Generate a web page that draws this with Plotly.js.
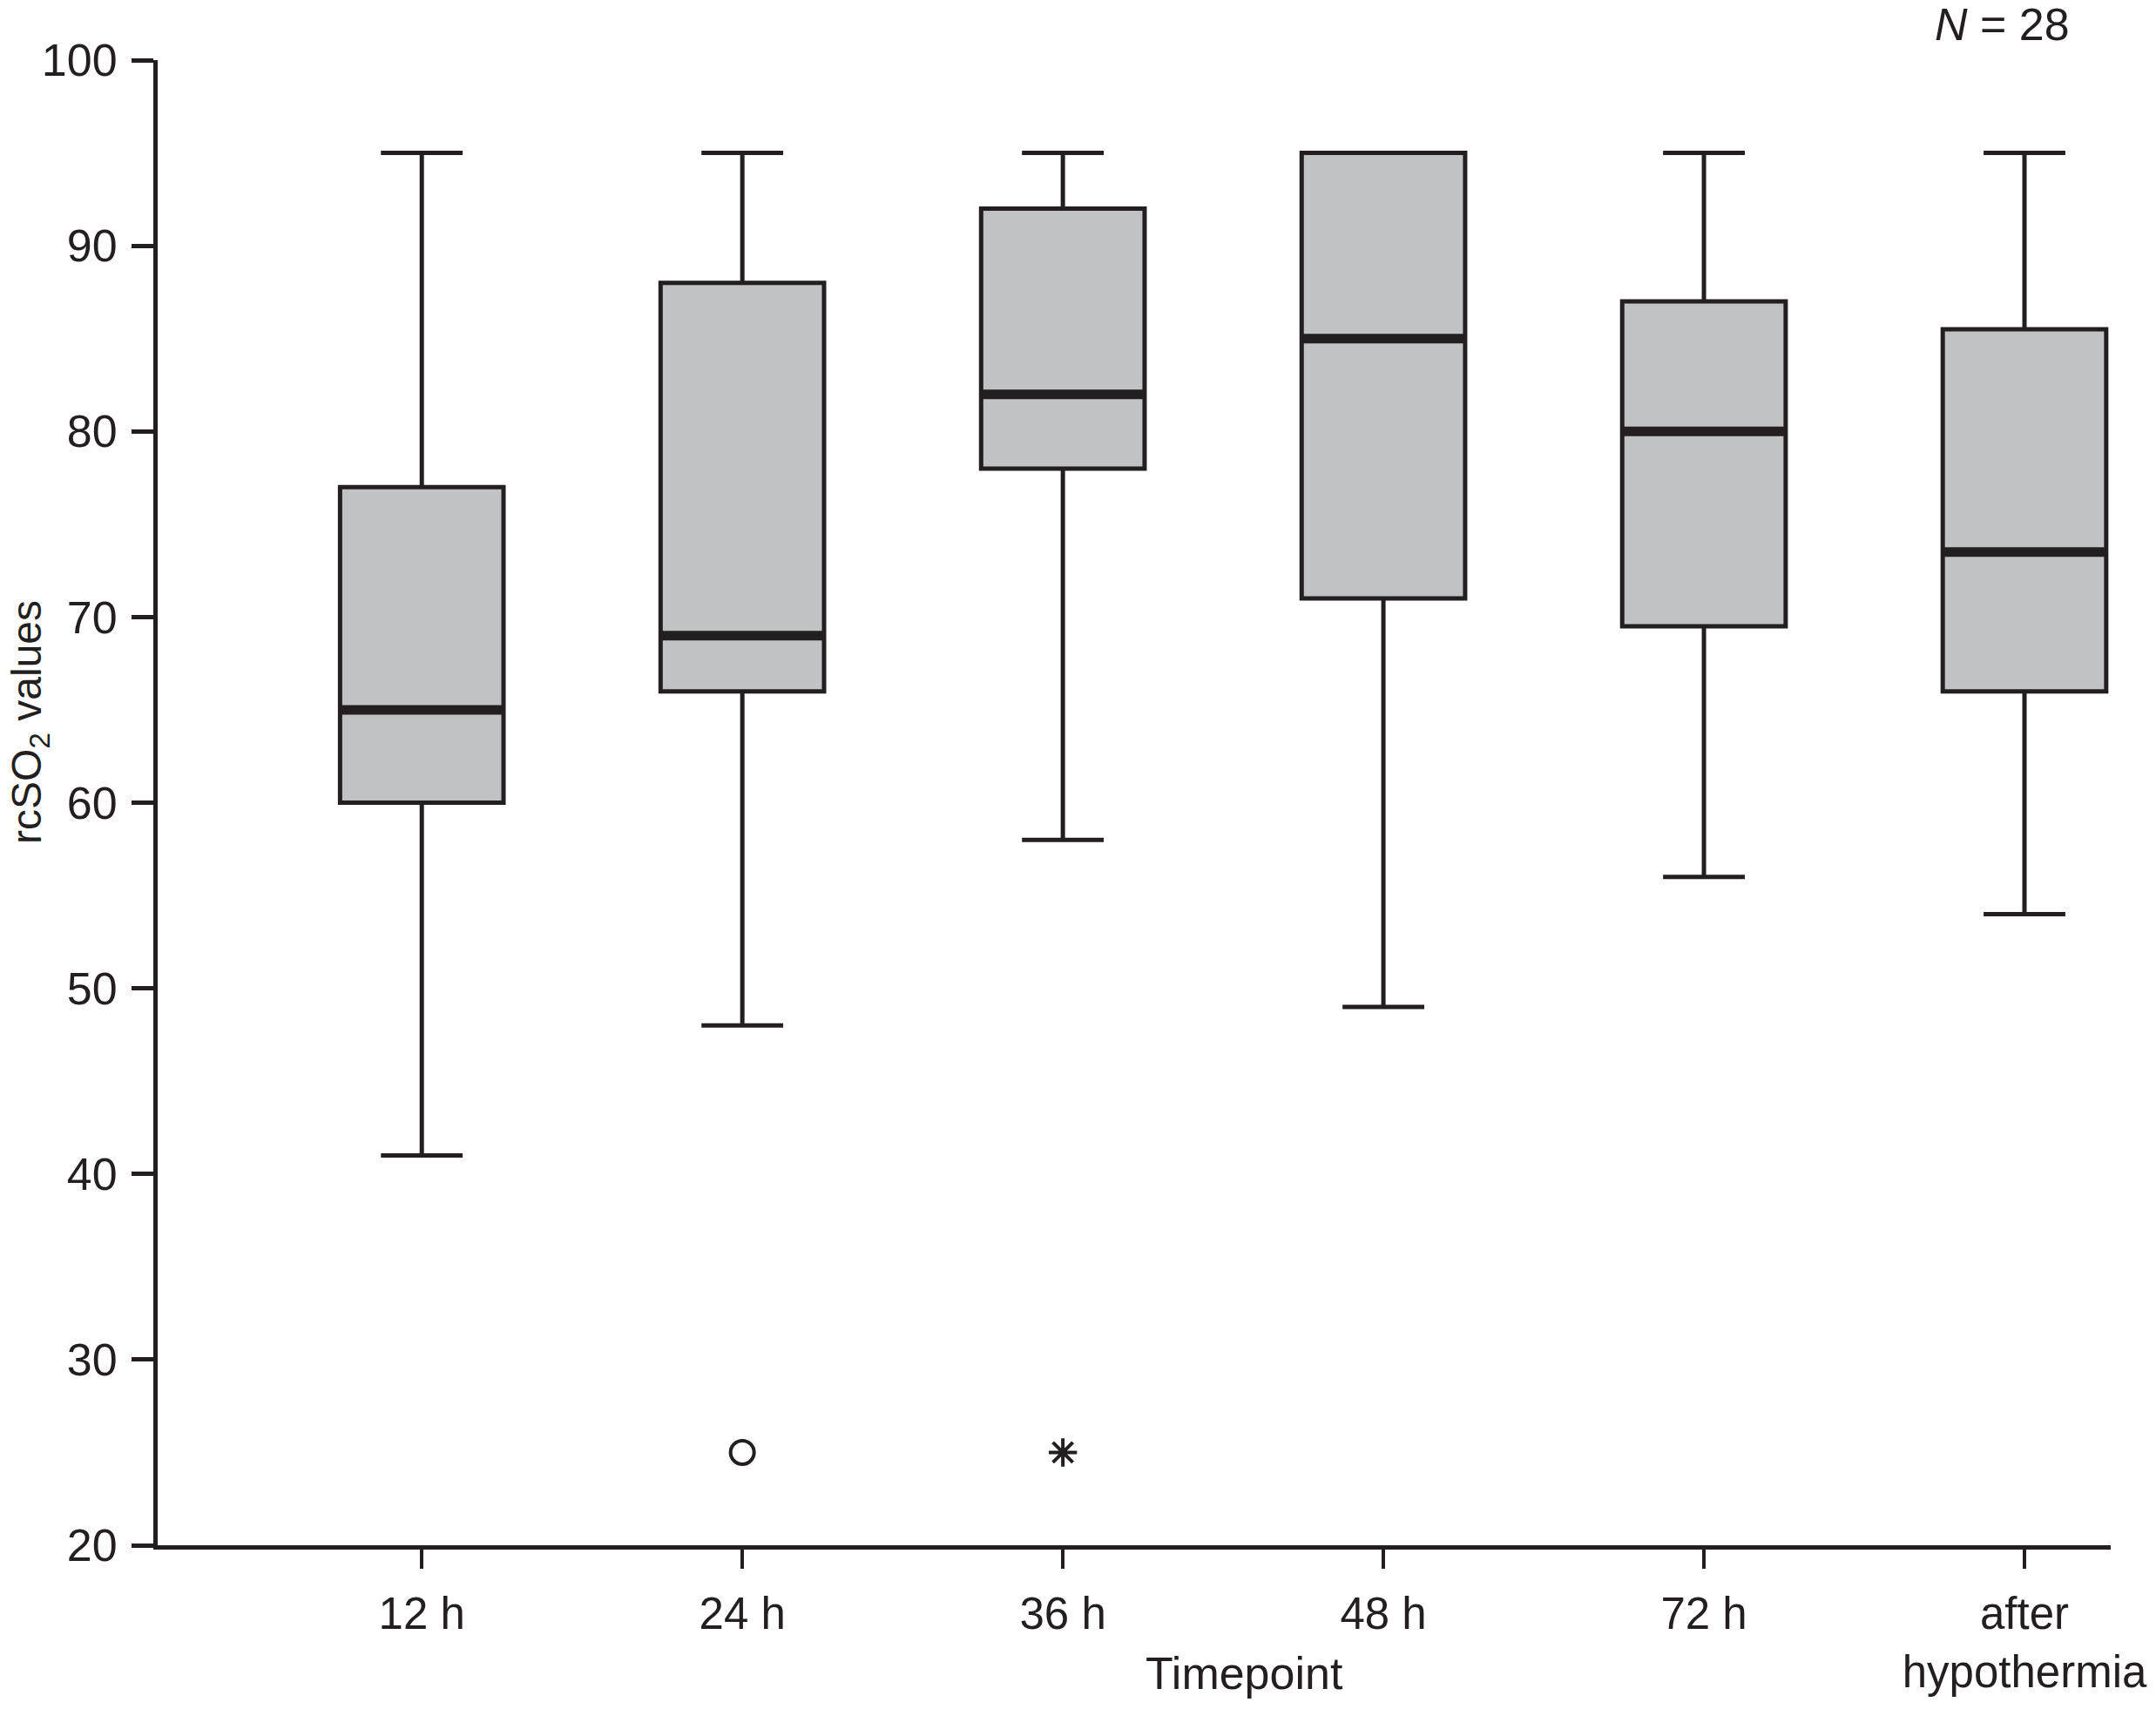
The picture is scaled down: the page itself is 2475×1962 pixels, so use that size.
<!DOCTYPE html>
<html>
<head>
<meta charset="utf-8">
<script src="https://cdn.plot.ly/plotly-3.0.1.min.js"></script>
<style>html,body{margin:0;padding:0;background:#fff;}#chart{width:2475px;height:1962px;}</style>
</head>
<body>
<div id="chart"></div>
<script>
const categories = ['12 h', '24 h', '36 h', '48 h', '72 h', 'after<br>hypothermia'];
const lowerWhisker = [41, 48, 58, 49, 56, 54];
const q1Values = [60, 66, 78, 71, 69.5, 66];
const medianValues = [65, 69, 82, 85, 80, 73.5];
const q3Values = [77, 88, 92, 95, 87, 85.5];
const upperWhisker = [95, 95, 95, 95, 95, 95];
const outlierCats = ['24 h', '36 h'];
const outlierValues = [25, 25];
const outlierSymbols = ['circle-open', 'asterisk-open'];
const yTickVals = [20, 30, 40, 50, 60, 70, 80, 90, 100];

const ink = '#231f20';
const fill = '#c1c2c4';
const fontFam = 'Liberation Sans, Arial, sans-serif';

const boxTrace = {
  type: 'box',
  x: categories,
  q1: q1Values,
  median: medianValues,
  q3: q3Values,
  lowerfence: lowerWhisker,
  upperfence: upperWhisker,
  boxpoints: false,
  width: 0.51,
  whiskerwidth: 0.5,
  fillcolor: fill,
  line: {color: ink, width: 5},
  hoverinfo: 'skip',
  showlegend: false
};

const medianTrace = {
  type: 'box',
  x: categories,
  q1: medianValues,
  median: medianValues,
  q3: medianValues,
  lowerfence: medianValues,
  upperfence: medianValues,
  boxpoints: false,
  width: 0.51,
  whiskerwidth: 0,
  fillcolor: 'rgba(0,0,0,0)',
  line: {color: ink, width: 11},
  hoverinfo: 'skip',
  showlegend: false
};

const outlierTrace = {
  type: 'scatter',
  mode: 'markers',
  x: outlierCats,
  y: outlierValues,
  marker: {symbol: outlierSymbols, size: 27, color: ink, line: {color: ink, width: 4}},
  hoverinfo: 'skip',
  showlegend: false
};

const layout = {
  width: 2475,
  height: 1962,
  margin: {l: 181, r: 52, t: 69, b: 188},
  paper_bgcolor: '#ffffff',
  plot_bgcolor: '#ffffff',
  boxmode: 'overlay',
  font: {family: fontFam, color: ink, size: 50},
  xaxis: {
    type: 'category',
    categoryorder: 'array',
    categoryarray: categories,
    range: [-0.824, 5.269],
    showline: true,
    linewidth: 5,
    linecolor: ink,
    ticks: 'outside',
    ticklen: 22,
    tickwidth: 4,
    tickcolor: ink,
    showgrid: false,
    zeroline: false,
    tickfont: {family: fontFam, size: 51, color: ink},
    ticklabelstandoff: 8
  },
  yaxis: {
    range: [20, 100],
    tickmode: 'array',
    tickvals: yTickVals,
    showline: true,
    linewidth: 5,
    linecolor: ink,
    ticks: 'outside',
    ticklen: 25,
    tickwidth: 5,
    tickcolor: ink,
    showgrid: false,
    zeroline: false,
    tickfont: {family: fontFam, size: 52, color: ink},
    ticklabelstandoff: 6
  },
  annotations: [
    {
      text: 'Timepoint', xref: 'paper', yref: 'paper', x: 0.5565, y: -0.0862,
      xanchor: 'center', yanchor: 'middle', showarrow: false,
      font: {family: fontFam, size: 52, color: ink}
    },
    {
      text: 'rcSO<sub>2</sub> values', xref: 'paper', yref: 'paper', x: -0.0655, y: 0.5543,
      xanchor: 'center', yanchor: 'middle', textangle: -90, showarrow: false,
      font: {family: fontFam, size: 48, color: ink}
    },
    {
      text: '<i>N</i> = 28', xref: 'paper', yref: 'paper', x: 0.9443, y: 1.0241,
      xanchor: 'center', yanchor: 'middle', showarrow: false,
      font: {family: fontFam, size: 52, color: ink}
    }
  ]
};

Plotly.newPlot('chart', [boxTrace, medianTrace, outlierTrace], layout, {staticPlot: true, displayModeBar: false});
</script>
</body>
</html>
